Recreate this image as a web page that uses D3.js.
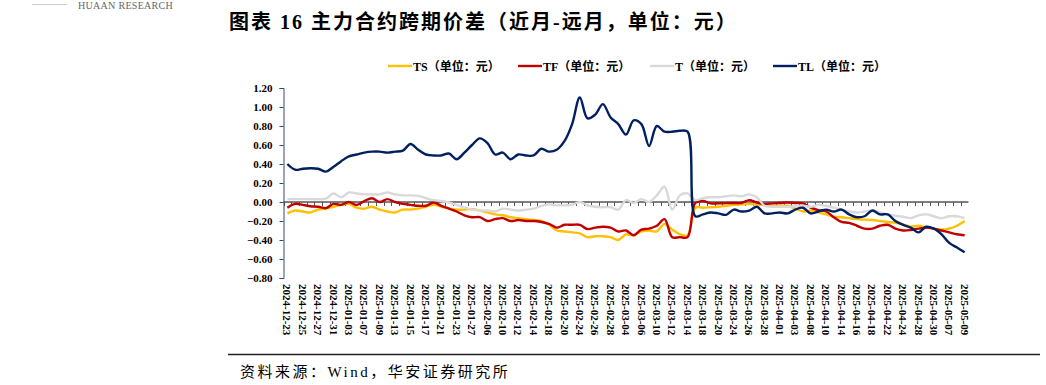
<!DOCTYPE html>
<html>
<head>
<meta charset="utf-8">
<script src="https://cdn.jsdelivr.net/npm/d3@7"></script>
<style>
  body { margin: 0; background: #fff; }
  svg { display: block; }
  .serif { font-family: "Liberation Serif", "Times New Roman", "Noto Sans CJK SC", serif; }
</style>
</head>
<body>
<div id="chart"></div>
<script>
// trading days (categories)
const dates = ["2024-12-23","2024-12-24","2024-12-25","2024-12-26","2024-12-27","2024-12-30","2024-12-31",
  "2025-01-02","2025-01-03","2025-01-06","2025-01-07","2025-01-08","2025-01-09","2025-01-10","2025-01-13",
  "2025-01-14","2025-01-15","2025-01-16","2025-01-17","2025-01-20","2025-01-21","2025-01-22","2025-01-23",
  "2025-01-24","2025-01-27","2025-02-05","2025-02-06","2025-02-07","2025-02-10","2025-02-11","2025-02-12",
  "2025-02-13","2025-02-14","2025-02-17","2025-02-18","2025-02-19","2025-02-20","2025-02-21","2025-02-24",
  "2025-02-25","2025-02-26","2025-02-27","2025-02-28","2025-03-03","2025-03-04","2025-03-05","2025-03-06",
  "2025-03-07","2025-03-10","2025-03-11","2025-03-12","2025-03-13","2025-03-14","2025-03-17","2025-03-18",
  "2025-03-19","2025-03-20","2025-03-21","2025-03-24","2025-03-25","2025-03-26","2025-03-27","2025-03-28",
  "2025-03-31","2025-04-01","2025-04-02","2025-04-03","2025-04-07","2025-04-08","2025-04-09","2025-04-10",
  "2025-04-11","2025-04-14","2025-04-15","2025-04-16","2025-04-17","2025-04-18","2025-04-21","2025-04-22",
  "2025-04-23","2025-04-24","2025-04-25","2025-04-28","2025-04-29","2025-04-30","2025-05-06","2025-05-07",
  "2025-05-08","2025-05-09"];

// series values (near month - far month, yuan)
const ts = [-0.12,-0.09,-0.10,-0.11,-0.08,-0.07,-0.05,-0.03,-0.02,-0.06,
  -0.07,-0.05,-0.08,-0.10,-0.11,-0.08,-0.08,-0.07,-0.05,-0.03,
  -0.05,-0.07,-0.08,-0.08,-0.075,-0.09,-0.11,-0.13,-0.14,-0.16,
  -0.17,-0.18,-0.19,-0.20,-0.24,-0.30,-0.31,-0.32,-0.33,-0.37,
  -0.36,-0.36,-0.37,-0.40,-0.34,-0.35,-0.31,-0.30,-0.31,-0.23,
  -0.29,-0.34,-0.35,-0.06,-0.06,-0.055,-0.05,-0.04,-0.03,-0.025,
  -0.02,-0.025,-0.03,-0.04,-0.04,-0.04,-0.07,-0.10,-0.09,-0.11,
  -0.13,-0.155,-0.16,-0.17,-0.18,-0.185,-0.19,-0.20,-0.21,-0.22,
  -0.235,-0.26,-0.25,-0.265,-0.28,-0.29,-0.28,-0.25,-0.20];

const tf = [-0.06,-0.02,-0.03,-0.045,-0.05,-0.065,-0.02,-0.03,0.0,-0.03,
  0.01,0.04,0.00,0.03,0.00,-0.02,-0.03,-0.04,-0.04,-0.005,
  -0.04,-0.07,-0.10,-0.14,-0.16,-0.16,-0.20,-0.18,-0.17,-0.20,
  -0.19,-0.20,-0.20,-0.21,-0.23,-0.27,-0.24,-0.24,-0.24,-0.285,
  -0.27,-0.26,-0.27,-0.31,-0.30,-0.35,-0.29,-0.28,-0.25,-0.18,
  -0.37,-0.37,-0.37,-0.01,0.01,-0.015,-0.015,-0.012,-0.01,-0.01,
  0.02,-0.005,-0.02,-0.015,-0.01,-0.005,-0.01,-0.014,-0.06,-0.085,
  -0.10,-0.16,-0.21,-0.22,-0.25,-0.28,-0.28,-0.25,-0.24,-0.28,
  -0.30,-0.295,-0.28,-0.27,-0.28,-0.30,-0.32,-0.34,-0.35];

const t = [0.03,0.03,0.03,0.03,0.03,0.035,0.09,0.05,0.10,0.09,
  0.08,0.08,0.08,0.10,0.08,0.07,0.07,0.065,0.04,0.02,
  0.01,-0.005,-0.03,-0.06,-0.08,-0.09,-0.09,-0.10,-0.07,-0.08,
  -0.09,-0.08,-0.07,-0.04,-0.025,-0.035,-0.035,-0.03,0.0,-0.035,
  -0.05,-0.055,-0.055,-0.08,0.02,-0.01,0.03,0.00,0.07,0.16,
  -0.08,0.07,0.09,0.02,0.04,0.05,0.05,0.06,0.07,0.06,
  0.08,0.05,-0.04,-0.05,-0.05,-0.05,-0.045,-0.04,-0.05,-0.03,
  -0.04,-0.06,-0.08,-0.10,-0.11,-0.10,-0.09,-0.11,-0.13,-0.145,
  -0.155,-0.17,-0.14,-0.13,-0.15,-0.17,-0.15,-0.15,-0.17];

const tl = [0.40,0.34,0.35,0.355,0.35,0.32,0.37,0.43,0.48,0.50,
  0.52,0.53,0.53,0.52,0.53,0.54,0.61,0.55,0.50,0.49,
  0.49,0.51,0.45,0.52,0.60,0.67,0.62,0.50,0.52,0.45,
  0.50,0.49,0.49,0.56,0.53,0.55,0.64,0.82,1.10,0.88,
  0.92,1.03,0.89,0.82,0.71,0.86,0.82,0.59,0.80,0.74,
  0.74,0.75,0.74,-0.15,-0.13,-0.11,-0.12,-0.135,-0.08,-0.10,
  -0.09,-0.05,-0.12,-0.12,-0.11,-0.12,-0.08,-0.06,-0.12,-0.10,
  -0.08,-0.10,-0.08,-0.13,-0.16,-0.15,-0.09,-0.13,-0.13,-0.20,
  -0.24,-0.27,-0.32,-0.26,-0.28,-0.34,-0.43,-0.48,-0.53];

const seriesNames = ["TS（单位：元）", "TF（单位：元）", "T（单位：元）", "TL（单位：元）"];
const seriesColors = ["#FFC000", "#C00000", "#D9D9D9", "#002060"];
const yTicks = [1.2, 1.0, 0.8, 0.6, 0.4, 0.2, 0, -0.2, -0.4, -0.6, -0.8];
// every second trading day gets a label
const tickLabels = dates.filter(function(d, i) { return i % 2 === 0; });

const width = 1046, height = 385;
const svg = d3.select("#chart").append("svg")
    .attr("width", width)
    .attr("height", height);

svg.append("rect").attr("width", width).attr("height", height).attr("fill", "#fff");

// header bits
svg.append("line").attr("x1", 32).attr("x2", 67).attr("y1", 4.5).attr("y2", 4.5)
    .attr("stroke", "#ccc").attr("stroke-width", 1);
svg.append("text").attr("class", "serif").attr("x", 78).attr("y", 9)
    .style("font-size", "10px").style("letter-spacing", "0.3px").attr("fill", "#666")
    .text("HUAAN RESEARCH");

svg.append("text").attr("class", "serif").attr("x", 229).attr("y", 29)
    .style("font-size", "20px").style("font-weight", "bold").style("letter-spacing", "2px")
    .attr("fill", "#000")
    .text("图表 16 主力合约跨期价差（近月-远月，单位：元）");

// set the ranges
const x = d3.scaleBand().domain(dates).range([283.5, 968.5]);
const y = d3.scaleLinear().domain([-0.8, 1.2]).range([278, 88]);

// x axis on zero line, ticks between categories
const xAxis = svg.append("g");
xAxis.append("line")
    .attr("x1", 283.5).attr("x2", 968.5)
    .attr("y1", y(0)).attr("y2", y(0))
    .attr("stroke", "#000").attr("stroke-width", 1);
xAxis.selectAll(".xt")
    .data(dates)
    .enter().append("line")
    .attr("x1", function(d) { return Math.round(x(d)) + 0.5; })
    .attr("x2", function(d) { return Math.round(x(d)) + 0.5; })
    .attr("y1", y(0)).attr("y2", y(0) + 4)
    .attr("stroke", "#555").attr("stroke-width", 1);

// rotated date labels along the bottom
svg.selectAll(".xl")
    .data(tickLabels)
    .enter().append("text")
    .attr("class", "serif")
    .attr("transform", function(d) { return "translate(" + (x(d) + x.bandwidth() / 2) + ",284) rotate(90)"; })
    .attr("dy", "0.35em")
    .style("font-size", "11px").style("font-weight", "bold")
    .attr("fill", "#000")
    .text(function(d) { return d; });

// y axis
const yAxis = svg.append("g")
    .attr("transform", "translate(283.5,0)")
    .call(d3.axisLeft(y).tickValues(yTicks).tickSize(4).tickFormat(d3.format(".2f")));
yAxis.select(".domain").attr("stroke", "#2F4A7A");
yAxis.selectAll(".tick line").attr("stroke", "#2F4A7A");
yAxis.selectAll(".tick text")
    .attr("class", "serif")
    .attr("x", -11)
    .style("font-size", "11px").style("font-weight", "bold")
    .attr("fill", "#000");

// define the lines
const line = d3.line()
    .x(function(d, i) { return x(dates[i]) + x.bandwidth() / 2; })
    .y(function(d) { return y(d); })
    .curve(d3.curveCatmullRom.alpha(0.5));

[ts, tf, t, tl].forEach(function(values, k) {
    svg.append("path")
        .datum(values)
        .attr("fill", "none")
        .attr("stroke", seriesColors[k])
        .attr("stroke-width", 2.4)
        .attr("stroke-linejoin", "round")
        .attr("d", line);
});

// handmade legend
const legendX = [388, 518, 650, 773];
seriesNames.forEach(function(name, k) {
    svg.append("line")
        .attr("x1", legendX[k]).attr("x2", legendX[k] + 24)
        .attr("y1", 66).attr("y2", 66)
        .attr("stroke", seriesColors[k]).attr("stroke-width", 2.4);
    svg.append("text")
        .attr("class", "serif")
        .attr("x", legendX[k] + 25).attr("y", 70.5)
        .style("font-size", "12px").style("font-weight", "bold")
        .attr("fill", "#000")
        .text(name);
});

// source line
svg.append("line").attr("x1", 228).attr("x2", 1040).attr("y1", 354.5).attr("y2", 354.5)
    .attr("stroke", "#222").attr("stroke-width", 1.5);
svg.append("text").attr("class", "serif").attr("x", 240).attr("y", 377)
    .style("font-size", "15px").style("letter-spacing", "2.5px").attr("fill", "#000")
    .text("资料来源：Wind，华安证券研究所");
</script>
</body>
</html>
